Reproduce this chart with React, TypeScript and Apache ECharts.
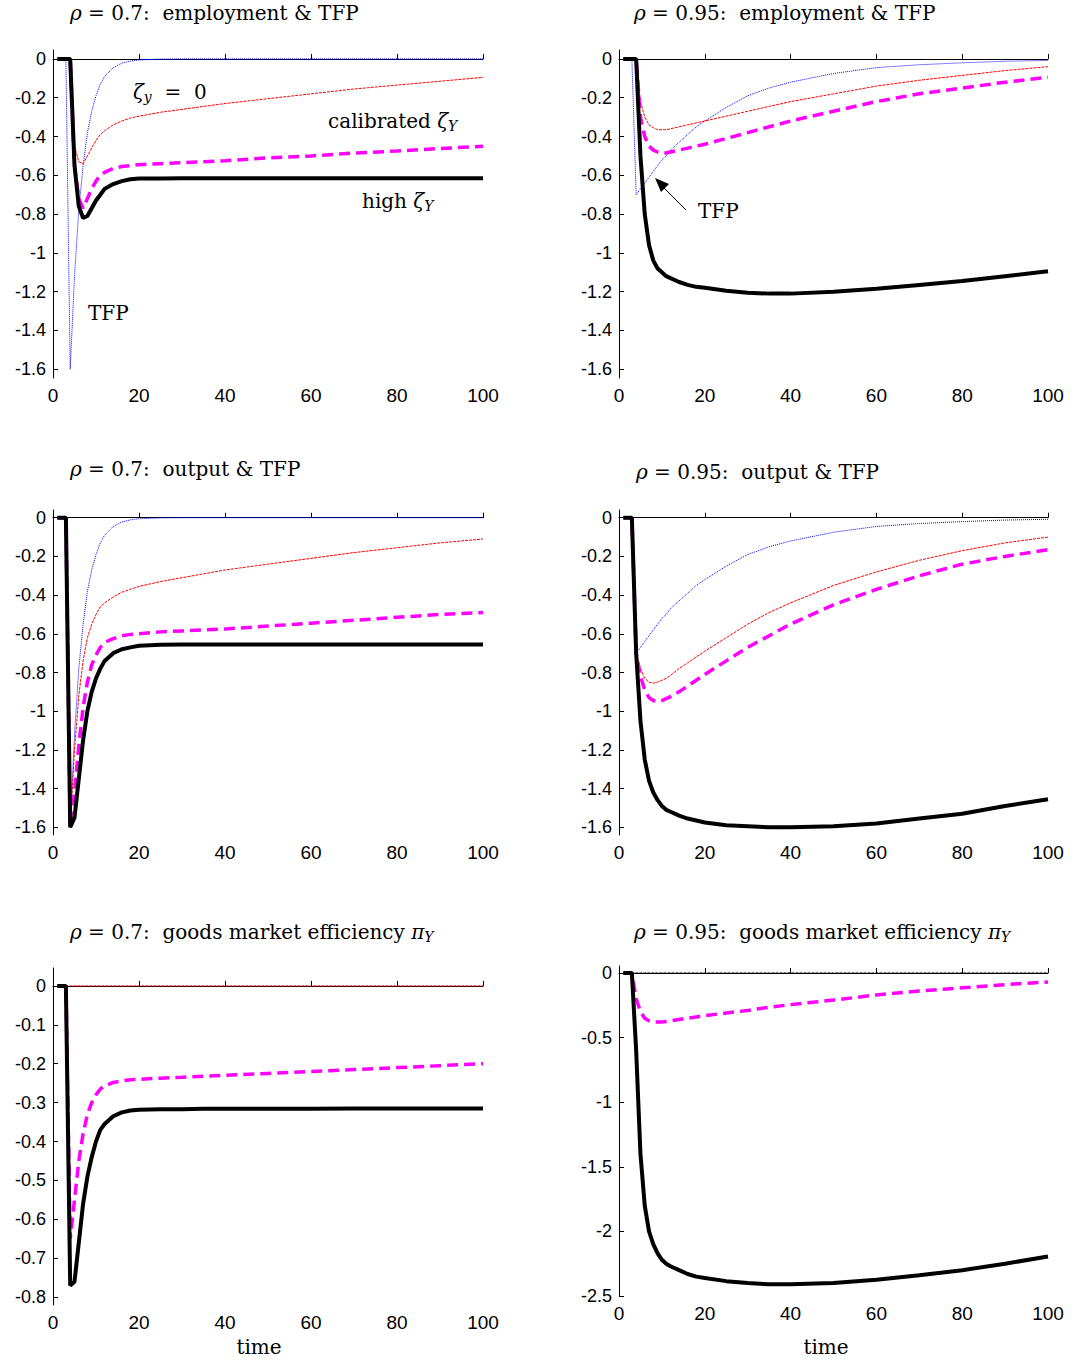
import { useRef, useEffect } from "react";
import * as echarts from "echarts";

const T = [1, 2, 3, 4, 5, 6, 7, 8, 9, 10, 11, 12, 14, 16, 18, 20, 25, 30, 35, 40, 50, 60, 70, 80, 90, 100];

// rho = 0.7, employment
const empTfp07 = [0, 0, 0, -1.6, -1.12, -0.78, -0.55, -0.38, -0.27, -0.19, -0.13, -0.09, -0.045, -0.022, -0.011, -0.005, -0.001, 0, 0, 0, 0, 0, 0, 0, 0, 0];
const empCal07 = [0, 0, 0, 0, -0.45, -0.53, -0.54, -0.5, -0.46, -0.42, -0.39, -0.37, -0.34, -0.32, -0.305, -0.295, -0.275, -0.26, -0.245, -0.23, -0.205, -0.18, -0.155, -0.135, -0.115, -0.095];
const empMid07 = [0, 0, 0, 0, -0.55, -0.72, -0.77, -0.72, -0.67, -0.63, -0.6, -0.585, -0.565, -0.555, -0.55, -0.545, -0.54, -0.535, -0.53, -0.525, -0.51, -0.5, -0.485, -0.475, -0.462, -0.45];
const empHigh07 = [0, 0, 0, 0, -0.55, -0.76, -0.82, -0.81, -0.77, -0.73, -0.7, -0.67, -0.645, -0.63, -0.62, -0.617, -0.616, -0.615, -0.615, -0.615, -0.615, -0.615, -0.615, -0.615, -0.615, -0.615];

// rho = 0.95, employment
const empTfp95 = [0, 0, 0, -0.7, -0.67, -0.64, -0.61, -0.58, -0.55, -0.52, -0.5, -0.47, -0.43, -0.39, -0.35, -0.32, -0.25, -0.19, -0.15, -0.12, -0.075, -0.045, -0.03, -0.02, -0.012, -0.008];
const empCal95 = [0, 0, 0, 0, -0.22, -0.3, -0.34, -0.355, -0.365, -0.365, -0.365, -0.36, -0.35, -0.34, -0.33, -0.32, -0.295, -0.27, -0.245, -0.22, -0.18, -0.14, -0.11, -0.085, -0.06, -0.04];
const empMid95 = [0, 0, 0, 0, -0.3, -0.4, -0.45, -0.47, -0.48, -0.485, -0.485, -0.48, -0.47, -0.46, -0.45, -0.44, -0.41, -0.38, -0.35, -0.32, -0.27, -0.22, -0.18, -0.15, -0.12, -0.095];
const empHigh95 = [0, 0, 0, 0, -0.5, -0.8, -0.96, -1.04, -1.08, -1.1, -1.12, -1.13, -1.15, -1.165, -1.175, -1.18, -1.195, -1.205, -1.21, -1.21, -1.2, -1.185, -1.165, -1.145, -1.12, -1.095];

// rho = 0.7, output
const outTfp07 = [0, 0, 0, -1.6, -1.12, -0.78, -0.55, -0.38, -0.27, -0.19, -0.13, -0.09, -0.045, -0.022, -0.011, -0.005, -0.001, 0, 0, 0, 0, 0, 0, 0, 0, 0];
const outCal07 = [0, 0, 0, -1.6, -1.2, -0.92, -0.74, -0.62, -0.55, -0.5, -0.46, -0.44, -0.41, -0.385, -0.37, -0.355, -0.33, -0.31, -0.29, -0.27, -0.24, -0.21, -0.18, -0.155, -0.13, -0.11];
const outMid07 = [0, 0, 0, -1.6, -1.42, -1.18, -0.98, -0.85, -0.76, -0.71, -0.67, -0.645, -0.625, -0.61, -0.603, -0.6, -0.59, -0.585, -0.58, -0.575, -0.56, -0.545, -0.53, -0.515, -0.5, -0.49];
const outHigh07 = [0, 0, 0, -1.6, -1.55, -1.35, -1.15, -1.0, -0.9, -0.83, -0.78, -0.74, -0.7, -0.68, -0.67, -0.662, -0.657, -0.655, -0.655, -0.655, -0.655, -0.655, -0.655, -0.655, -0.655, -0.655];

// rho = 0.95, output
const outTfp95 = [0, 0, 0, -0.7, -0.67, -0.64, -0.61, -0.58, -0.55, -0.52, -0.5, -0.47, -0.43, -0.39, -0.35, -0.32, -0.25, -0.19, -0.15, -0.12, -0.075, -0.045, -0.03, -0.02, -0.012, -0.008];
const outCal95 = [0, 0, 0, -0.7, -0.78, -0.83, -0.85, -0.855, -0.85, -0.84, -0.83, -0.815, -0.78, -0.75, -0.72, -0.69, -0.62, -0.55, -0.49, -0.44, -0.35, -0.28, -0.22, -0.17, -0.13, -0.1];
const outMid95 = [0, 0, 0, -0.7, -0.82, -0.89, -0.93, -0.945, -0.95, -0.945, -0.935, -0.925, -0.9, -0.87, -0.84, -0.81, -0.74, -0.67, -0.61, -0.55, -0.45, -0.37, -0.3, -0.24, -0.2, -0.165];
const outHigh95 = [0, 0, 0, -0.7, -1.05, -1.25, -1.36, -1.42, -1.46, -1.49, -1.51, -1.52, -1.54, -1.555, -1.565, -1.575, -1.59, -1.595, -1.6, -1.6, -1.595, -1.58, -1.555, -1.53, -1.49, -1.455];

// rho = 0.7, goods market efficiency
const effCal07 = T.map(() => 0);
const effMid07 = [0, 0, 0, -0.65, -0.55, -0.45, -0.38, -0.33, -0.3, -0.28, -0.265, -0.257, -0.248, -0.244, -0.241, -0.24, -0.237, -0.235, -0.232, -0.23, -0.225, -0.22, -0.215, -0.21, -0.205, -0.2];
const effHigh07 = [0, 0, 0, -0.77, -0.76, -0.66, -0.56, -0.49, -0.44, -0.4, -0.37, -0.355, -0.335, -0.325, -0.32, -0.318, -0.317, -0.317, -0.316, -0.316, -0.316, -0.316, -0.315, -0.315, -0.315, -0.315];

// rho = 0.95, goods market efficiency
const effCal95 = T.map(() => 0);
const effMid95 = [0, 0, 0, -0.2, -0.3, -0.35, -0.37, -0.38, -0.38, -0.38, -0.375, -0.37, -0.36, -0.35, -0.34, -0.33, -0.31, -0.29, -0.265, -0.245, -0.21, -0.17, -0.14, -0.115, -0.09, -0.07];
const effHigh95 = [0, 0, 0, -0.6, -1.4, -1.8, -2.0, -2.1, -2.17, -2.22, -2.25, -2.27, -2.3, -2.33, -2.35, -2.36, -2.385, -2.4, -2.41, -2.41, -2.4, -2.375, -2.34, -2.3, -2.25, -2.195];

const ticksA = [0, -0.2, -0.4, -0.6, -0.8, -1, -1.2, -1.4, -1.6];
const ticksB = [0, -0.1, -0.2, -0.3, -0.4, -0.5, -0.6, -0.7, -0.8];
const ticksC = [0, -0.5, -1, -1.5, -2, -2.5];

const SERIF = "'DejaVu Serif', 'Liberation Serif', serif";
const SANS = "'Liberation Sans', Arial, sans-serif";

type Panel = {
  left: number; top: number; width: number; height: number;
  min: number; max: number; ticks: number[];
  tfp?: number[]; cal: number[]; mid: number[]; high: number[]; calColor: string;
};

const panels: Panel[] = [
  { left: 53, top: 50, width: 430, height: 328, min: -1.645, max: 0.046, ticks: ticksA, tfp: empTfp07, cal: empCal07, mid: empMid07, high: empHigh07, calColor: "#ff0000" },
  { left: 619, top: 50, width: 429, height: 328, min: -1.645, max: 0.046, ticks: ticksA, tfp: empTfp95, cal: empCal95, mid: empMid95, high: empHigh95, calColor: "#ff0000" },
  { left: 53, top: 510, width: 430, height: 325, min: -1.64, max: 0.04, ticks: ticksA, tfp: outTfp07, cal: outCal07, mid: outMid07, high: outHigh07, calColor: "#ff0000" },
  { left: 619, top: 510, width: 429, height: 325, min: -1.64, max: 0.04, ticks: ticksA, tfp: outTfp95, cal: outCal95, mid: outMid95, high: outHigh95, calColor: "#ff0000" },
  { left: 53, top: 968, width: 430, height: 337, min: -0.82, max: 0.046, ticks: ticksB, cal: effCal07, mid: effMid07, high: effHigh07, calColor: "#ff0000" },
  { left: 619, top: 966, width: 429, height: 330, min: -2.5, max: 0.054, ticks: ticksC, cal: effCal95, mid: effMid95, high: effHigh95, calColor: "#000000" },
];

const pairs = (v: number[]) => T.map((t, i) => [t, v[i]]);

const rich = {
  i: { fontFamily: SERIF, fontStyle: "italic" as const, fontSize: 20, color: "#000" },
  n: { fontFamily: SERIF, fontSize: 20, color: "#000" },
  s: { fontFamily: SERIF, fontStyle: "italic" as const, fontSize: 14, color: "#000", verticalAlign: "bottom" as const, padding: [10, 0, 0, 0] },
};

function label(x: number, y: number, text: string, align: "left" | "center" = "left") {
  return { type: "text", x, y, style: { text, rich, align, verticalAlign: "middle", fill: "#000" } };
}

export default function App() {
  const ref = useRef<HTMLDivElement>(null);

  useEffect(() => {
    document.body.style.margin = "0";
    if (!ref.current) return;
    const chart = echarts.init(ref.current, null, { renderer: "svg" });

    const grid = panels.map((p) => ({ left: p.left, top: p.top, width: p.width, height: p.height }));
    const xAxis = panels.map((_, i) => ({
      type: "value", gridIndex: i, min: 0, max: 100, interval: 20,
      axisLine: { show: true, lineStyle: { color: "#000", width: 1 } },
      axisTick: { inside: true, length: 5, lineStyle: { color: "#000" } },
      axisLabel: { color: "#000", fontFamily: SANS, fontSize: 19, margin: 8 },
      splitLine: { show: false },
    }));
    const yAxis = panels.map((p, i) => ({
      type: "value", gridIndex: i, min: p.min, max: p.max,
      axisLine: { show: true, onZero: false, lineStyle: { color: "#000", width: 1 } },
      axisTick: { inside: true, length: 5, customValues: p.ticks, lineStyle: { color: "#000" } },
      axisLabel: { color: "#000", fontFamily: SANS, fontSize: 18, margin: 7, customValues: p.ticks, formatter: (v: number) => String(Math.round(v * 10) / 10) },
      splitLine: { show: false },
    }));

    const series: any[] = [];
    panels.forEach((p, i) => {
      const base = { type: "line", xAxisIndex: i, yAxisIndex: i, symbol: "none", silent: true };
      if (p.tfp) series.push({ ...base, data: pairs(p.tfp), lineStyle: { color: "#0000ff", width: 1, type: [1, 1] } });
      series.push({ ...base, data: pairs(p.cal), lineStyle: { color: p.calColor, width: 1, type: [3, 1] } });
      series.push({ ...base, data: pairs(p.mid), lineStyle: { color: "#ff00ff", width: 3.5, type: [11, 6] } });
      series.push({ ...base, data: pairs(p.high), lineStyle: { color: "#000", width: 4 } });
    });

    const graphic: any[] = [
      label(70, 13, "{i|ρ}{n| = 0.7:  employment & TFP}"),
      label(634, 13, "{i|ρ}{n| = 0.95:  employment & TFP}"),
      label(70, 469, "{i|ρ}{n| = 0.7:  output & TFP}"),
      label(636, 472, "{i|ρ}{n| = 0.95:  output & TFP}"),
      label(70, 932, "{i|ρ}{n| = 0.7:  goods market efficiency }{i|π}{s|Y}"),
      label(634, 932, "{i|ρ}{n| = 0.95:  goods market efficiency }{i|π}{s|Y}"),
      label(133, 92, "{i|ζ}{s|y}{n|  =  0}"),
      label(328, 121, "{n|calibrated }{i|ζ}{s|Y}"),
      label(362, 201, "{n|high }{i|ζ}{s|Y}"),
      label(88, 313, "{n|TFP}"),
      label(698, 211, "{n|TFP}"),
      label(259, 1347, "{n|time}", "center"),
      label(826, 1347, "{n|time}", "center"),
      { type: "line", shape: { x1: 686, y1: 210, x2: 662, y2: 186 }, style: { stroke: "#000", lineWidth: 1 } },
      { type: "polygon", shape: { points: [[655, 178], [669, 184], [661, 192]] }, style: { fill: "#000" } },
    ];

    chart.setOption({ animation: false, backgroundColor: "#fff", grid, xAxis, yAxis, series, graphic });
    return () => chart.dispose();
  }, []);

  return <div ref={ref} style={{ width: 1077, height: 1364 }} />;
}
